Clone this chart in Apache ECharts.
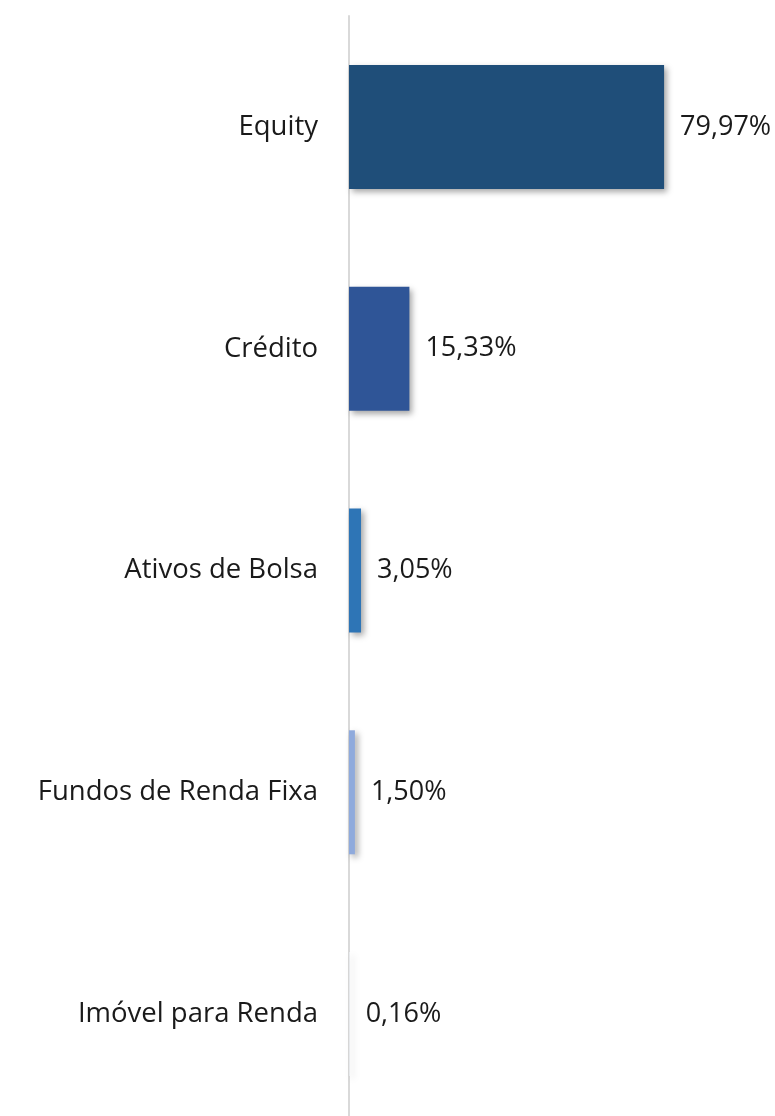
<!DOCTYPE html>
<html>
<head>
<meta charset="utf-8">
<style>
  html, body { margin: 0; padding: 0; background: #ffffff; overflow: hidden; }
  #chart { width: 775px; height: 1125px; }
</style>
<script src="https://cdn.jsdelivr.net/npm/echarts@6/dist/echarts.min.js"></script>
</head>
<body>
<div id="chart"></div>
<script>
const categories = ["Equity", "Crédito", "Ativos de Bolsa", "Fundos de Renda Fixa", "Imóvel para Renda"];
const values = [79.97, 15.33, 3.05, 1.50, 0.16];
const barColors = ["#1F4E79", "#2F5597", "#2E75B6", "#8FAADC", "#F3F5FA"];

const chart = echarts.init(document.getElementById('chart'), null, { renderer: 'canvas' });
const FONT = '"Open Sans", "Noto Sans", sans-serif';

chart.setOption({
  animation: false,
  backgroundColor: '#ffffff',
  grid: { left: 349, width: 394, top: 16, bottom: 0, containLabel: false },
  xAxis: {
    type: 'value', min: 0, max: 100,
    show: false
  },
  yAxis: {
    type: 'category',
    data: categories,
    inverse: true,
    axisLine: { show: true, lineStyle: { color: '#D9D9D9', width: 2 } },
    axisTick: { show: false },
    axisLabel: {
      margin: 31,
      color: '#1a1a1a',
      fontSize: 27.5,
      fontFamily: FONT
    },
    splitLine: { show: false }
  },
  series: [{
    type: 'bar',
    data: values.map((v, i) => ({
      value: v,
      itemStyle: {
        color: barColors[i],
        shadowColor: 'rgba(0,0,0,0.35)',
        shadowBlur: 6,
        shadowOffsetX: 3,
        shadowOffsetY: 3
      }
    })),
    barWidth: 124,
    label: {
      show: true,
      position: 'right',
      distance: 16,
      color: '#1a1a1a',
      fontSize: 27,
      fontFamily: FONT,
      formatter: p => p.value.toFixed(2).replace('.', ',') + '%'
    }
  }]
});
</script>
</body>
</html>
